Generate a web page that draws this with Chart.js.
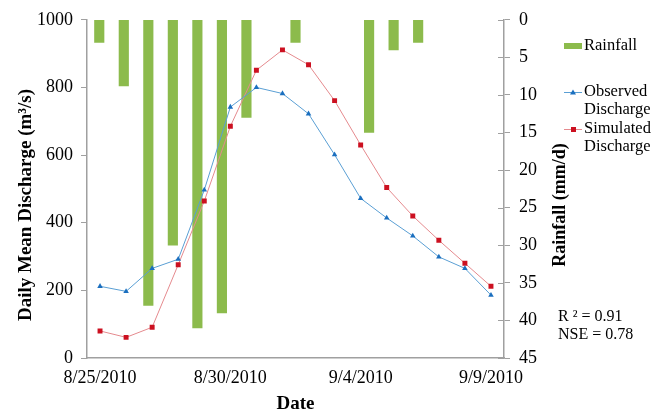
<!DOCTYPE html>
<html>
<head>
<meta charset="utf-8">
<script src="https://cdn.jsdelivr.net/npm/chart.js@4.4.0/dist/chart.umd.min.js"></script>
<style>
body { margin: 0; background: #fff; }
</style>
</head>
<body>
<canvas id="myChart" width="667" height="416"></canvas>
<script>
var dates = ["8/25/2010", "8/26/2010", "8/27/2010", "8/28/2010", "8/29/2010", "8/30/2010", "8/31/2010", "9/1/2010",
    "9/2/2010", "9/3/2010", "9/4/2010", "9/5/2010", "9/6/2010", "9/7/2010", "9/8/2010", "9/9/2010"];
var rainDates = dates.concat(["9/10/2010"]);
var shownDates = ["8/25/2010", "8/30/2010", "9/4/2010", "9/9/2010"];

var observed = [212, 197, 265, 292, 497, 742, 800, 782, 722, 601, 472, 414, 361, 299, 265, 186];
var simulated = [80, 61, 91, 276, 464, 685, 851, 911, 867, 761, 630, 504, 420, 348, 280, 212];
var rainfall = [3, 8.8, 38, 30, 41, 39, 13, 0, 3, 0, 0, 15, 4, 3, 0, 0, 0];

var rainColor = '#8cbb4c';
var obsLine = '#5a9fd4';
var obsPoint = '#1b6fbf';
var simLine = '#e58a8e';
var simPoint = '#cc1020';
var axisColor = '#a0a0a0';
var serif = "'Liberation Serif', 'Times New Roman', serif";

Chart.defaults.font.family = serif;
Chart.defaults.color = '#000';

var extras = {
    id: 'extras',
    afterDraw: function(chart) {
        var ctx = chart.ctx;
        var area = chart.chartArea;
        var y2 = chart.scales.y2;

        ctx.save();
        // inner half of the cross tick marks on the rainfall axis
        ctx.strokeStyle = axisColor;
        ctx.lineWidth = 1;
        y2.ticks.forEach(function(t) {
            var py = Math.round(y2.getPixelForValue(t.value)) + 0.5;
            ctx.beginPath();
            ctx.moveTo(area.right - 6, py);
            ctx.lineTo(area.right, py);
            ctx.stroke();
        });

        // axis titles
        ctx.fillStyle = '#000';
        ctx.textAlign = 'center';
        ctx.textBaseline = 'middle';
        ctx.font = "bold 19px " + serif;
        ctx.fillText('Date', (area.left + area.right) / 2, 404);

        ctx.save();
        ctx.translate(26, 205);
        ctx.rotate(-Math.PI / 2);
        ctx.fillText('Daily Mean Discharge (m³/s)', 0, 0);
        ctx.restore();

        ctx.save();
        ctx.font = "bold 18px " + serif;
        ctx.translate(560, 205);
        ctx.rotate(-Math.PI / 2);
        ctx.fillText('Rainfall (mm/d)', 0, 0);
        ctx.restore();

        // legend
        ctx.textAlign = 'left';
        ctx.font = "16.5px " + serif;
        ctx.fillStyle = rainColor;
        ctx.fillRect(564, 43, 18, 6);
        ctx.fillStyle = '#000';
        ctx.fillText('Rainfall', 584, 46);

        ctx.strokeStyle = obsLine;
        ctx.beginPath();
        ctx.moveTo(564, 92.5);
        ctx.lineTo(582, 92.5);
        ctx.stroke();
        ctx.fillStyle = obsPoint;
        ctx.beginPath();
        ctx.moveTo(573, 89.5);
        ctx.lineTo(576, 94.5);
        ctx.lineTo(570, 94.5);
        ctx.closePath();
        ctx.fill();
        ctx.fillStyle = '#000';
        ctx.fillText('Observed', 584, 92);
        ctx.fillText('Discharge', 584, 110);

        ctx.strokeStyle = simLine;
        ctx.beginPath();
        ctx.moveTo(564, 129.5);
        ctx.lineTo(582, 129.5);
        ctx.stroke();
        ctx.fillStyle = simPoint;
        ctx.fillRect(571, 127, 5, 5);
        ctx.fillStyle = '#000';
        ctx.fillText('Simulated', 584, 129);
        ctx.fillText('Discharge', 584, 147);

        ctx.font = "16px " + serif;
        ctx.fillText('R ² = 0.91', 558, 317);
        ctx.fillText('NSE = 0.78', 558, 335);
        ctx.restore();
    }
};

var ctx = document.getElementById("myChart");

var chart = new Chart(ctx, {
    type: 'bar',
    data: {
        labels: dates,
        datasets: [
            {
                type: 'line',
                label: 'Observed Discharge',
                data: observed,
                xAxisID: 'x',
                yAxisID: 'y',
                borderColor: obsLine,
                borderWidth: 1,
                pointStyle: 'triangle',
                pointRadius: 3.2,
                pointBackgroundColor: obsPoint,
                pointBorderColor: obsPoint,
                pointBorderWidth: 0,
                tension: 0,
                order: 1
            },
            {
                type: 'line',
                label: 'Simulated Discharge',
                data: simulated,
                xAxisID: 'x',
                yAxisID: 'y',
                borderColor: simLine,
                borderWidth: 1,
                pointStyle: 'rect',
                pointRadius: 3.5,
                pointBackgroundColor: simPoint,
                pointBorderColor: simPoint,
                pointBorderWidth: 0,
                tension: 0,
                order: 2
            },
            {
                type: 'bar',
                label: 'Rainfall',
                data: rainfall,
                xAxisID: 'x2',
                yAxisID: 'y2',
                backgroundColor: function(c) { return c.raw > 0 ? rainColor : 'rgba(0,0,0,0)'; },
                grouped: false,
                barThickness: 9.5,
                order: 3
            }
        ]
    },
    options: {
        responsive: false,
        animation: false,
        devicePixelRatio: 1,
        layout: { padding: { top: 13, left: 0, right: 0, bottom: 0 } },
        plugins: {
            legend: { display: false },
            tooltip: { enabled: false }
        },
        scales: {
            x: {
                type: 'category',
                labels: dates,
                offset: true,
                grid: { display: false, drawTicks: false },
                border: { display: true, color: axisColor, width: 1.5 },
                ticks: {
                    autoSkip: false,
                    maxRotation: 0,
                    padding: 9,
                    font: { size: 18 },
                    callback: function(value, index) {
                        var lab = dates[index];
                        return shownDates.indexOf(lab) >= 0 ? lab : '';
                    }
                },
                afterFit: function(s) { s.height = 58; }
            },
            x2: {
                type: 'category',
                position: 'top',
                labels: rainDates,
                offset: true,
                grid: { display: false, drawTicks: false },
                border: { display: false },
                ticks: { display: false },
                afterFit: function(s) { s.height = 0; }
            },
            y: {
                position: 'left',
                min: 0,
                max: 1000,
                grid: { drawOnChartArea: false, tickLength: 6, color: axisColor },
                border: { display: true, color: axisColor, width: 1.5 },
                ticks: {
                    stepSize: 200,
                    padding: 8,
                    font: { size: 18 },
                    callback: function(value) { return String(value); }
                },
                afterFit: function(s) { s.width = 87; }
            },
            y2: {
                position: 'right',
                reverse: true,
                min: 0,
                max: 45,
                grid: { drawOnChartArea: false, tickLength: 6, color: axisColor },
                border: { display: true, color: axisColor, width: 1.5 },
                ticks: { stepSize: 5, padding: 9, font: { size: 18 } },
                afterFit: function(s) { s.width = 163; }
            }
        }
    },
    plugins: [extras]
});
</script>
</body>
</html>
